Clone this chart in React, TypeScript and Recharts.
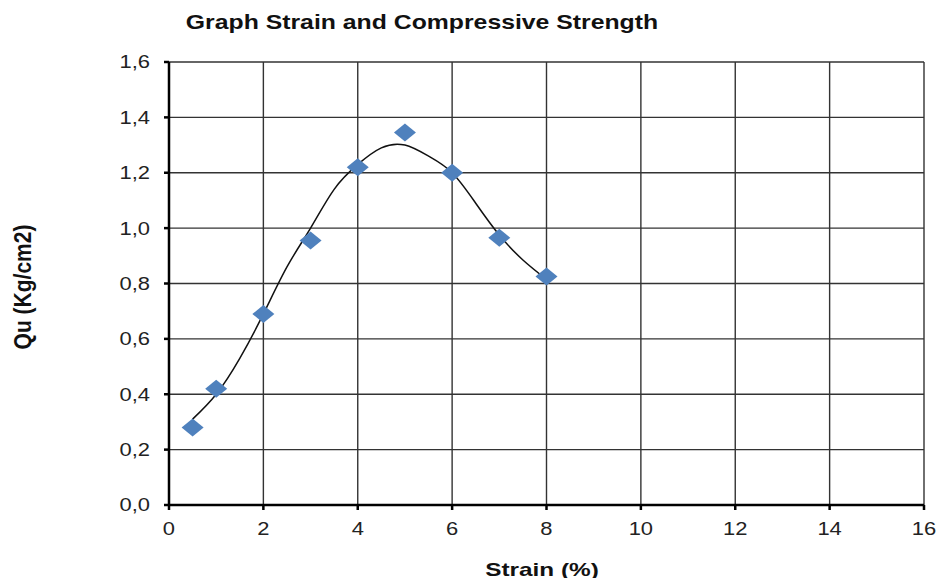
import { ComposedChart, Line, Scatter, XAxis, YAxis, CartesianGrid } from 'recharts';

// measured points (strain %, Qu kg/cm2)
const strain = [0.5, 1, 2, 3, 4, 5, 6, 7, 8];
const qu = [0.28, 0.42, 0.69, 0.955, 1.22, 1.345, 1.2, 0.965, 0.825];

// trendline
const trendStrain = [0.5, 1, 1.5, 2, 2.5, 3, 3.5, 4, 4.5, 5, 5.5, 6, 6.5, 7, 7.5, 8];
const trendQu = [0.31, 0.4, 0.53, 0.69, 0.86, 1.0, 1.14, 1.23, 1.29, 1.3, 1.26, 1.2, 1.09, 0.975, 0.885, 0.815];

const xTicks = [0, 2, 4, 6, 8, 10, 12, 14, 16];
const yTicks = [0, 0.2, 0.4, 0.6, 0.8, 1.0, 1.2, 1.4, 1.6];

const points = strain.map((x, i) => ({ x, y: qu[i] }));
const trend = trendStrain.map((x, i) => ({ x, y: trendQu[i] }));

const font = '"Liberation Sans", Arial, sans-serif';
const STRETCH = 1.22;

const Diamond = (props: any) => {
  const { cx, cy } = props;
  if (cx == null || cy == null) return null;
  return (
    <polygon
      points={`${cx - 11},${cy} ${cx},${cy - 9} ${cx + 11},${cy} ${cx},${cy + 9}`}
      fill="#4F81BD"
    />
  );
};

const XTick = (props: any) => {
  const { x, y, payload } = props;
  return (
    <text
      x={x}
      y={y}
      dy="0.71em"
      textAnchor="middle"
      fill="#222"
      fontSize={18}
      fontFamily={font}
      transform={`translate(${x},0) scale(${STRETCH},1) translate(${-x},0)`}
    >
      {payload.value}
    </text>
  );
};

const YTick = (props: any) => {
  const { x, y, payload } = props;
  return (
    <text
      x={x}
      y={y}
      dy="0.355em"
      textAnchor="end"
      fill="#222"
      fontSize={18}
      fontFamily={font}
      transform={`translate(${x},0) scale(${STRETCH},1) translate(${-x},0)`}
    >
      {Number(payload.value).toFixed(1).replace('.', ',')}
    </text>
  );
};

const labelStyle = {
  position: 'absolute' as const,
  fontWeight: 'bold' as const,
  whiteSpace: 'nowrap' as const,
  color: '#111',
};

export default function App() {
  return (
    <div style={{ position: 'relative', width: 930, height: 570, fontFamily: font }}>
      <div
        style={{
          ...labelStyle,
          left: 414,
          top: 14,
          fontSize: 21,
          transform: 'translate(-50%, -50%) scaleX(1.18)',
        }}
      >
        Graph Strain and Compressive Strength
      </div>
      <div
        style={{
          ...labelStyle,
          left: 15,
          top: 279,
          fontSize: 21,
          transform: 'translate(-50%, -50%) rotate(-90deg) scaleY(1.1)',
        }}
      >
        Qu (Kg/cm2)
      </div>
      <div
        style={{
          ...labelStyle,
          left: 534,
          top: 562,
          fontSize: 19,
          transform: 'translate(-50%, -50%) scaleX(1.28)',
        }}
      >
        Strain (%)
      </div>
      <ComposedChart width={930} height={570} margin={{ top: 54, right: 14, left: 0, bottom: 0 }}>
        <CartesianGrid stroke="#333" strokeWidth={1.4} />
        <XAxis
          type="number"
          dataKey="x"
          domain={[0, 16]}
          ticks={xTicks}
          interval={0}
          height={73}
          tickSize={5}
          tickMargin={12}
          stroke="#000"
          strokeWidth={2.5}
          tick={XTick}
          allowDataOverflow
        />
        <YAxis
          type="number"
          dataKey="y"
          domain={[0, 1.6]}
          ticks={yTicks}
          interval={0}
          width={161}
          tickSize={5}
          tickMargin={14}
          stroke="#000"
          strokeWidth={2.5}
          tick={YTick}
          allowDataOverflow
        />
        <Scatter data={points} dataKey="y" shape={Diamond} isAnimationActive={false} />
        <Line
          data={trend}
          dataKey="y"
          type="natural"
          stroke="#111"
          strokeWidth={1.5}
          dot={false}
          activeDot={false}
          isAnimationActive={false}
        />
      </ComposedChart>
    </div>
  );
}
